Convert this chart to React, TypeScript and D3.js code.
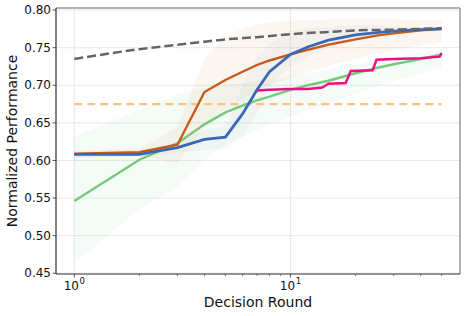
import React from 'react';
import * as d3 from 'd3';

const rounds = [1, 2, 3, 4, 5, 6, 7, 8, 10, 12, 15, 20, 25, 30, 40, 50];

const blueVals = [0.608, 0.608, 0.617, 0.628, 0.631, 0.662, 0.694, 0.718, 0.741, 0.751, 0.760, 0.767, 0.770, 0.772, 0.774, 0.775];
const blueLo = [0.605, 0.605, 0.610, 0.614, 0.616, 0.632, 0.662, 0.700, 0.725, 0.738, 0.750, 0.760, 0.765, 0.768, 0.771, 0.772];
const blueHi = [0.611, 0.611, 0.625, 0.640, 0.646, 0.700, 0.738, 0.756, 0.772, 0.776, 0.778, 0.780, 0.780, 0.779, 0.778, 0.778];

const orangeVals = [0.609, 0.611, 0.621, 0.691, 0.707, 0.718, 0.727, 0.733, 0.741, 0.747, 0.754, 0.761, 0.766, 0.769, 0.773, 0.775];
const orangeLo = [0.604, 0.606, 0.596, 0.645, 0.668, 0.682, 0.692, 0.700, 0.710, 0.718, 0.726, 0.735, 0.742, 0.747, 0.753, 0.757];
const orangeHi = [0.613, 0.616, 0.645, 0.736, 0.765, 0.775, 0.781, 0.784, 0.786, 0.787, 0.788, 0.788, 0.788, 0.788, 0.787, 0.787];

const greenVals = [0.546, 0.601, 0.623, 0.648, 0.664, 0.673, 0.680, 0.685, 0.694, 0.700, 0.706, 0.716, 0.723, 0.728, 0.735, 0.741];
const greenLo = [0.463, 0.535, 0.565, 0.600, 0.622, 0.632, 0.641, 0.648, 0.658, 0.667, 0.676, 0.689, 0.698, 0.705, 0.716, 0.724];
const greenHi = [0.632, 0.667, 0.688, 0.697, 0.701, 0.703, 0.705, 0.707, 0.712, 0.716, 0.721, 0.728, 0.733, 0.737, 0.743, 0.748];

const pinkRounds = [7, 8, 10, 12, 14, 15, 18, 19, 24, 25, 30, 40, 49, 50];
const pinkVals = [0.693, 0.694, 0.695, 0.695, 0.697, 0.702, 0.703, 0.719, 0.720, 0.734, 0.735, 0.736, 0.738, 0.743];

const upperRounds = [1, 2, 3, 4, 5, 7, 10, 15, 20, 30, 50];
const upperVals = [0.735, 0.748, 0.754, 0.758, 0.761, 0.764, 0.768, 0.771, 0.773, 0.774, 0.776];

const baselineVal = 0.675;

const yTicks = [0.45, 0.5, 0.55, 0.6, 0.65, 0.7, 0.75, 0.8];
const xMajor = [1, 10];
const xMinor = [2, 3, 4, 5, 6, 7, 8, 9, 20, 30, 40, 50];

const W = 466;
const H = 316;
const left = 56, right = 460, top = 8, bottom = 274;

export default function App() {
  const x = d3.scaleLog().domain([Math.pow(10, -0.0846), Math.pow(10, 1.784)]).range([left, right]);
  const y = d3.scaleLinear().domain([0.449, 0.8028]).range([bottom, top]);

  const line = d3.line<[number, number]>().x(d => x(d[0])).y(d => y(d[1]));
  const smooth = d3.line<[number, number]>().x(d => x(d[0])).y(d => y(d[1])).curve(d3.curveMonotoneX);
  const band = d3.area<[number, number, number]>().x(d => x(d[0])).y0(d => y(d[1])).y1(d => y(d[2]));

  const zip = (xs: number[], ys: number[]) => xs.map((v, i) => [v, ys[i]] as [number, number]);
  const zip3 = (xs: number[], a: number[], b: number[]) => xs.map((v, i) => [v, a[i], b[i]] as [number, number, number]);

  const font = 'DejaVu Sans, sans-serif';

  return (
    <svg width={W} height={H} style={{ position: 'absolute', left: 0, top: 0 }}>
      <rect x={0} y={0} width={W} height={H} fill="#fff" />
      <defs>
        <clipPath id="plot">
          <rect x={left} y={top} width={right - left} height={bottom - top} />
        </clipPath>
      </defs>
      {/* grid */}
      {yTicks.map(t => (
        <line key={'gy' + t} x1={left} x2={right} y1={y(t)} y2={y(t)} stroke="#cfcfcf" strokeWidth={0.8} strokeDasharray="1.5,1" />
      ))}
      {xMajor.map(t => (
        <line key={'gx' + t} x1={x(t)} x2={x(t)} y1={top} y2={bottom} stroke="#cfcfcf" strokeWidth={0.8} strokeDasharray="1.5,1" />
      ))}
      <g clipPath="url(#plot)">
        <path d={band(zip3(rounds, greenLo, greenHi)) || ''} fill="#77c97a" fillOpacity={0.07} />
        <path d={band(zip3(rounds, orangeLo, orangeHi)) || ''} fill="#d9a36f" fillOpacity={0.1} />
        <path d={band(zip3(rounds, blueLo, blueHi)) || ''} fill="#9aa6bd" fillOpacity={0.08} />
        <line x1={x(1)} x2={x(50)} y1={y(baselineVal)} y2={y(baselineVal)} stroke="#ffbf80" strokeWidth={2.3} strokeDasharray="8,5" />
        <path d={line(zip(rounds, greenVals)) || ''} fill="none" stroke="#77c97a" strokeWidth={2.4} />
        <path d={line(zip(rounds, orangeVals)) || ''} fill="none" stroke="#c55a1a" strokeWidth={2.4} />
        <path d={line(zip(rounds, blueVals)) || ''} fill="none" stroke="#3a68b4" strokeWidth={2.8} />
        <path d={line(zip(pinkRounds, pinkVals)) || ''} fill="none" stroke="#ec0f83" strokeWidth={2.4} />
        <path d={smooth(zip(upperRounds, upperVals)) || ''} fill="none" stroke="#666" strokeWidth={2.5} strokeDasharray="9,4" />
      </g>
      {/* spines */}
      <line x1={left} x2={right} y1={top} y2={top} stroke="#999" strokeWidth={1.5} />
      <line x1={right} x2={right} y1={top} y2={bottom} stroke="#999" strokeWidth={1.5} />
      <line x1={left} x2={left} y1={top} y2={bottom} stroke="#333" strokeWidth={1.2} />
      <line x1={left} x2={right} y1={bottom} y2={bottom} stroke="#333" strokeWidth={1.2} />
      {/* y ticks */}
      {yTicks.map(t => (
        <g key={'yt' + t}>
          <line x1={left - 3.5} x2={left} y1={y(t)} y2={y(t)} stroke="#333" strokeWidth={0.8} />
          <text x={left - 5} y={y(t)} dy="0.35em" textAnchor="end" fontFamily={font} fontSize={12} fill="#111">{t.toFixed(2)}</text>
        </g>
      ))}
      {/* x ticks */}
      {xMajor.map((t, i) => (
        <g key={'xt' + t}>
          <line x1={x(t)} x2={x(t)} y1={bottom} y2={bottom + 3.5} stroke="#333" strokeWidth={0.8} />
          <text x={x(t) - 3} y={bottom + 16} textAnchor="middle" fontFamily={font} fontSize={12} fill="#111">10</text>
          <text x={x(t) + 8} y={bottom + 10} textAnchor="middle" fontFamily={font} fontSize={8.5} fill="#111">{i}</text>
        </g>
      ))}
      {xMinor.map(t => (
        <line key={'xm' + t} x1={x(t)} x2={x(t)} y1={bottom} y2={bottom + 2} stroke="#333" strokeWidth={0.6} />
      ))}
      <text x={(left + right) / 2} y={307} textAnchor="middle" fontFamily={font} fontSize={14} fill="#111">Decision Round</text>
      <text transform={`translate(17,${(top + bottom) / 2}) rotate(-90)`} textAnchor="middle" fontFamily={font} fontSize={14} fill="#111">Normalized Performance</text>
    </svg>
  );
}
